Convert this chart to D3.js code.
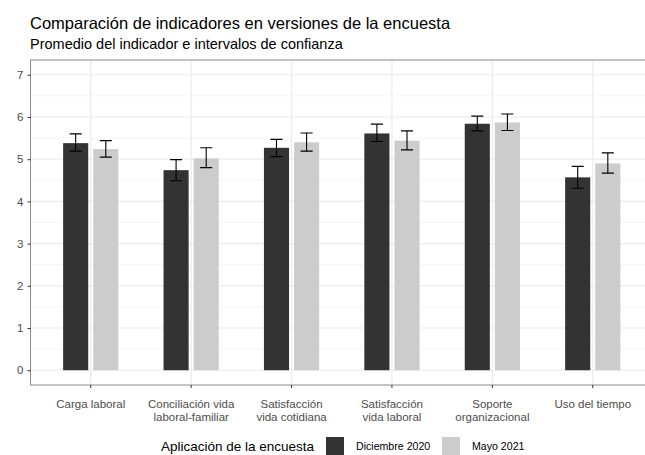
<!DOCTYPE html>
<html>
<head>
<meta charset="utf-8">
<script src="https://cdn.jsdelivr.net/npm/d3@7"></script>
<style>
  body { margin: 0; background: #fff; }
  svg { font-family: "Liberation Sans", Arial, sans-serif; display: block; }
</style>
</head>
<body>
<div id="chart"></div>
<script>
const categories = ["Carga laboral", "Conciliación vida\nlaboral-familiar", "Satisfacción\nvida cotidiana",
  "Satisfacción\nvida laboral", "Soporte\norganizacional", "Uso del tiempo"];
const series = ["Diciembre 2020", "Mayo 2021"];
const colors = ["#333333", "#cccccc"];

const dic2020 = [5.38, 4.74, 5.27, 5.61, 5.84, 4.57];
const dic2020Lo = [5.19, 4.49, 5.06, 5.42, 5.67, 4.31];
const dic2020Hi = [5.60, 4.99, 5.47, 5.83, 6.02, 4.83];
const may2021 = [5.24, 5.02, 5.40, 5.44, 5.87, 4.90];
const may2021Lo = [5.05, 4.80, 5.19, 5.22, 5.68, 4.67];
const may2021Hi = [5.44, 5.27, 5.62, 5.67, 6.07, 5.15];
const yTicks = [0, 1, 2, 3, 4, 5, 6, 7];
const yMinor = [0.5, 1.5, 2.5, 3.5, 4.5, 5.5, 6.5];

const rows = [];
categories.forEach((c, i) => {
  rows.push({ cat: c, s: series[0], v: dic2020[i], lo: dic2020Lo[i], hi: dic2020Hi[i] });
  rows.push({ cat: c, s: series[1], v: may2021[i], lo: may2021Lo[i], hi: may2021Hi[i] });
});

const W = 645, H = 455;
const panel = { left: 30.5, right: 653, top: 60, bottom: 385 };

const svg = d3.select("#chart").append("svg")
  .attr("width", W).attr("height", H);

const x = d3.scaleBand()
  .domain(categories)
  .range([panel.left, panel.right])
  .paddingInner(0)
  .paddingOuter(0.1);
const step = x.step();
const xSub = d3.scaleBand().domain(series).range([-step * 0.3, step * 0.3]);
const barW = step * 0.25;
const capW = step * 0.12;
const cx = d => x(d) + x.bandwidth() / 2;

const y = d3.scaleLinear().domain([-0.35, 7.35]).range([panel.bottom, panel.top]);
const color = d3.scaleOrdinal().domain(series).range(colors);

// clip for the panel (right side runs off the canvas)
svg.append("clipPath").attr("id", "clip").append("rect")
  .attr("x", panel.left).attr("y", panel.top)
  .attr("width", panel.right - panel.left).attr("height", panel.bottom - panel.top);

const g = svg.append("g").attr("clip-path", "url(#clip)");

// grid
g.selectAll(".minor").data(yMinor).join("line")
  .attr("x1", panel.left).attr("x2", panel.right)
  .attr("y1", d => y(d)).attr("y2", d => y(d))
  .attr("stroke", "#f2f2f2").attr("stroke-width", 0.8);
g.selectAll(".major").data(yTicks).join("line")
  .attr("x1", panel.left).attr("x2", panel.right)
  .attr("y1", d => y(d)).attr("y2", d => y(d))
  .attr("stroke", "#ebebeb").attr("stroke-width", 1.2);
g.selectAll(".vgrid").data(categories).join("line")
  .attr("x1", d => cx(d)).attr("x2", d => cx(d))
  .attr("y1", panel.top).attr("y2", panel.bottom)
  .attr("stroke", "#ebebeb").attr("stroke-width", 1.2);

// bars
g.selectAll(".bar").data(rows).join("rect")
  .attr("x", d => cx(d.cat) + xSub(d.s) + (xSub.bandwidth() - barW) / 2)
  .attr("width", barW)
  .attr("y", d => y(d.v))
  .attr("height", d => y(0) - y(d.v))
  .attr("fill", d => color(d.s));

// error bars
const eb = g.selectAll(".eb").data(rows).join("g")
  .attr("transform", d => `translate(${cx(d.cat) + xSub(d.s) + xSub.bandwidth() / 2},0)`);
eb.append("line").attr("x1", 0).attr("x2", 0)
  .attr("y1", d => y(d.lo)).attr("y2", d => y(d.hi))
  .attr("stroke", "#000").attr("stroke-width", 1.1);
eb.append("line").attr("x1", -capW / 2).attr("x2", capW / 2)
  .attr("y1", d => y(d.lo)).attr("y2", d => y(d.lo))
  .attr("stroke", "#000").attr("stroke-width", 1.1);
eb.append("line").attr("x1", -capW / 2).attr("x2", capW / 2)
  .attr("y1", d => y(d.hi)).attr("y2", d => y(d.hi))
  .attr("stroke", "#000").attr("stroke-width", 1.1);

// panel border
svg.append("rect")
  .attr("x", panel.left).attr("y", panel.top)
  .attr("width", panel.right - panel.left).attr("height", panel.bottom - panel.top)
  .attr("fill", "none").attr("stroke", "#8a8a8a").attr("stroke-width", 1);

// y axis
const yAxis = svg.append("g")
  .attr("transform", `translate(${panel.left},0)`)
  .call(d3.axisLeft(y).tickValues(yTicks).tickSize(3).tickPadding(4));
yAxis.select(".domain").remove();
yAxis.selectAll("line").attr("stroke", "#333");
yAxis.selectAll("text").attr("fill", "#4d4d4d").style("font-size", "11.5px")
  .style("font-family", "Liberation Sans, Arial, sans-serif");

// x axis
const xAxis = svg.append("g")
  .attr("transform", `translate(0,${panel.bottom})`)
  .call(d3.axisBottom(x).tickSize(3).tickPadding(3).tickFormat(""));
xAxis.select(".domain").remove();
xAxis.selectAll("line").attr("stroke", "#333");
xAxis.selectAll(".tick").append("text")
  .attr("fill", "#4d4d4d").attr("text-anchor", "middle")
  .style("font-size", "11.5px")
  .style("font-family", "Liberation Sans, Arial, sans-serif")
  .selectAll("tspan")
  .data(d => d.split("\n"))
  .join("tspan")
  .attr("x", 0)
  .attr("y", (d, i) => 23 + i * 13)
  .text(d => d);

// titles
svg.append("text").attr("x", 30).attr("y", 29)
  .style("font-size", "16.5px").attr("fill", "#000")
  .text("Comparación de indicadores en versiones de la encuesta");
svg.append("text").attr("x", 30).attr("y", 48.5)
  .style("font-size", "14.5px").attr("fill", "#000")
  .text("Promedio del indicador e intervalos de confianza");

// legend
const leg = svg.append("g");
leg.append("text").attr("x", 161).attr("y", 450.5)
  .style("font-size", "13.5px").attr("fill", "#000")
  .text("Aplicación de la encuesta");
const legX = [326, 442];
series.forEach((s, i) => {
  leg.append("rect").attr("x", legX[i]).attr("y", 437)
    .attr("width", 18).attr("height", 18).attr("fill", color(s));
  leg.append("text").attr("x", legX[i] + 30).attr("y", 450)
    .style("font-size", "10.6px").attr("fill", "#000").text(s);
});
</script>
</body>
</html>
